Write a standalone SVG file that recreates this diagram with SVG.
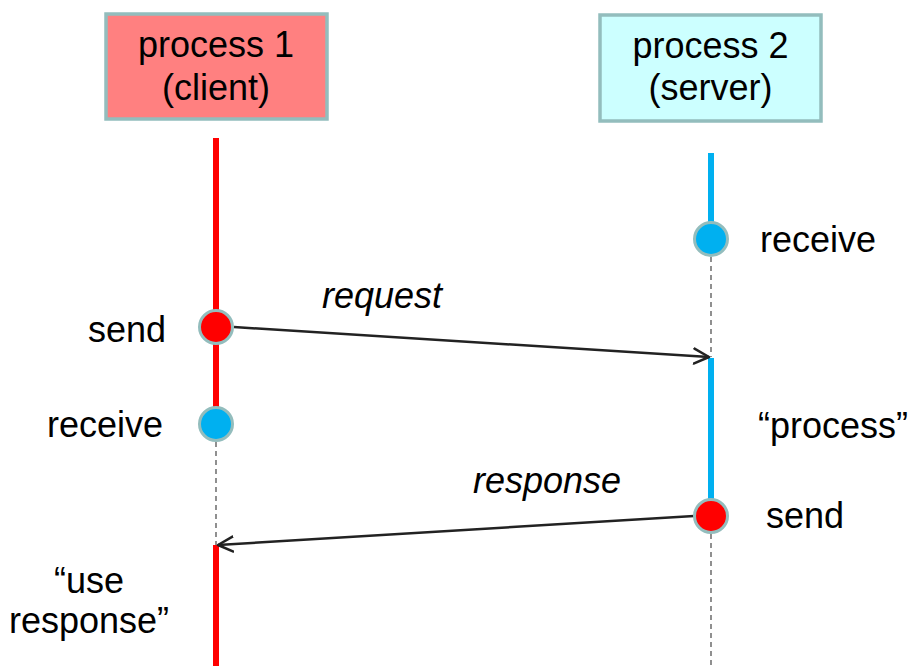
<svg xmlns="http://www.w3.org/2000/svg" width="909" height="666" viewBox="0 0 909 666">
<style>
text{font-family:"Liberation Sans",Arial,sans-serif;font-size:36px;fill:#000}
.it{font-style:italic}
.box{stroke:#93BDBD;stroke-width:3.5}
.dash{stroke:#555;stroke-width:1.3;stroke-dasharray:5 4;fill:none}
.red{stroke:#FF0000;stroke-width:6}
.blue{stroke:#00B0F0;stroke-width:6}
.ev{stroke:#93BDBD;stroke-width:3}
.msg{stroke:#222;stroke-width:2.5;fill:none}
</style>
<defs>
<marker id="open" markerUnits="userSpaceOnUse" markerWidth="20" markerHeight="20" viewBox="-16 -10 20 20" refX="0" refY="0" orient="auto">
<path d="M -15 -7.5 L 0 0 L -15 7.5" fill="none" stroke="#222" stroke-width="2.5" stroke-linecap="round" stroke-linejoin="round"/>
</marker>
</defs>
<rect width="909" height="666" fill="#fff"/>
<g id="lifelines">
<line class="red" x1="216" y1="138" x2="216" y2="424"/>
<line class="dash" x1="216" y1="442" x2="216" y2="545"/>
<line class="red" x1="216" y1="545" x2="216" y2="666"/>
<line class="blue" x1="711" y1="153" x2="711" y2="239"/>
<line class="dash" x1="711" y1="257" x2="711" y2="357"/>
<line class="blue" x1="711" y1="358" x2="711" y2="516"/>
<line class="dash" x1="711" y1="534" x2="711" y2="666"/>
</g>
<g id="process1">
<rect class="box" x="106" y="14" width="221" height="105" fill="#FF8080"/>
<text x="216" y="57" text-anchor="middle">process 1</text>
<text x="216" y="100" text-anchor="middle">(client)</text>
</g>
<g id="process2">
<rect class="box" x="600" y="15" width="221" height="106" fill="#CCFFFF"/>
<text x="710.5" y="58" text-anchor="middle">process 2</text>
<text x="710.5" y="100" text-anchor="middle">(server)</text>
</g>
<g id="connectors">
<line class="msg" x1="234" y1="327" x2="709" y2="357" marker-end="url(#open)"/>
<line class="msg" x1="694" y1="516" x2="218" y2="545" marker-end="url(#open)"/>
<text class="it" x="382" y="308" text-anchor="middle">request</text>
<text class="it" x="547" y="493" text-anchor="middle">response</text>
</g>
<g id="client-send">
<circle class="ev" cx="216" cy="327" r="16.5" fill="#FF0000"/>
<text x="166" y="342" text-anchor="end">send</text>
</g>
<g id="client-receive">
<circle class="ev" cx="216" cy="424" r="16.5" fill="#00B0F0"/>
<text x="163" y="437" text-anchor="end">receive</text>
</g>
<g id="client-use">
<text x="89" y="593" text-anchor="middle">“use</text>
<text x="89" y="633" text-anchor="middle">response”</text>
</g>
<g id="server-receive">
<circle class="ev" cx="711" cy="239" r="16.5" fill="#00B0F0"/>
<text x="760" y="252">receive</text>
</g>
<g id="server-process">
<text x="758" y="438">“process”</text>
</g>
<g id="server-send">
<circle class="ev" cx="711" cy="516" r="16.5" fill="#FF0000"/>
<text x="766" y="528">send</text>
</g>
</svg>
